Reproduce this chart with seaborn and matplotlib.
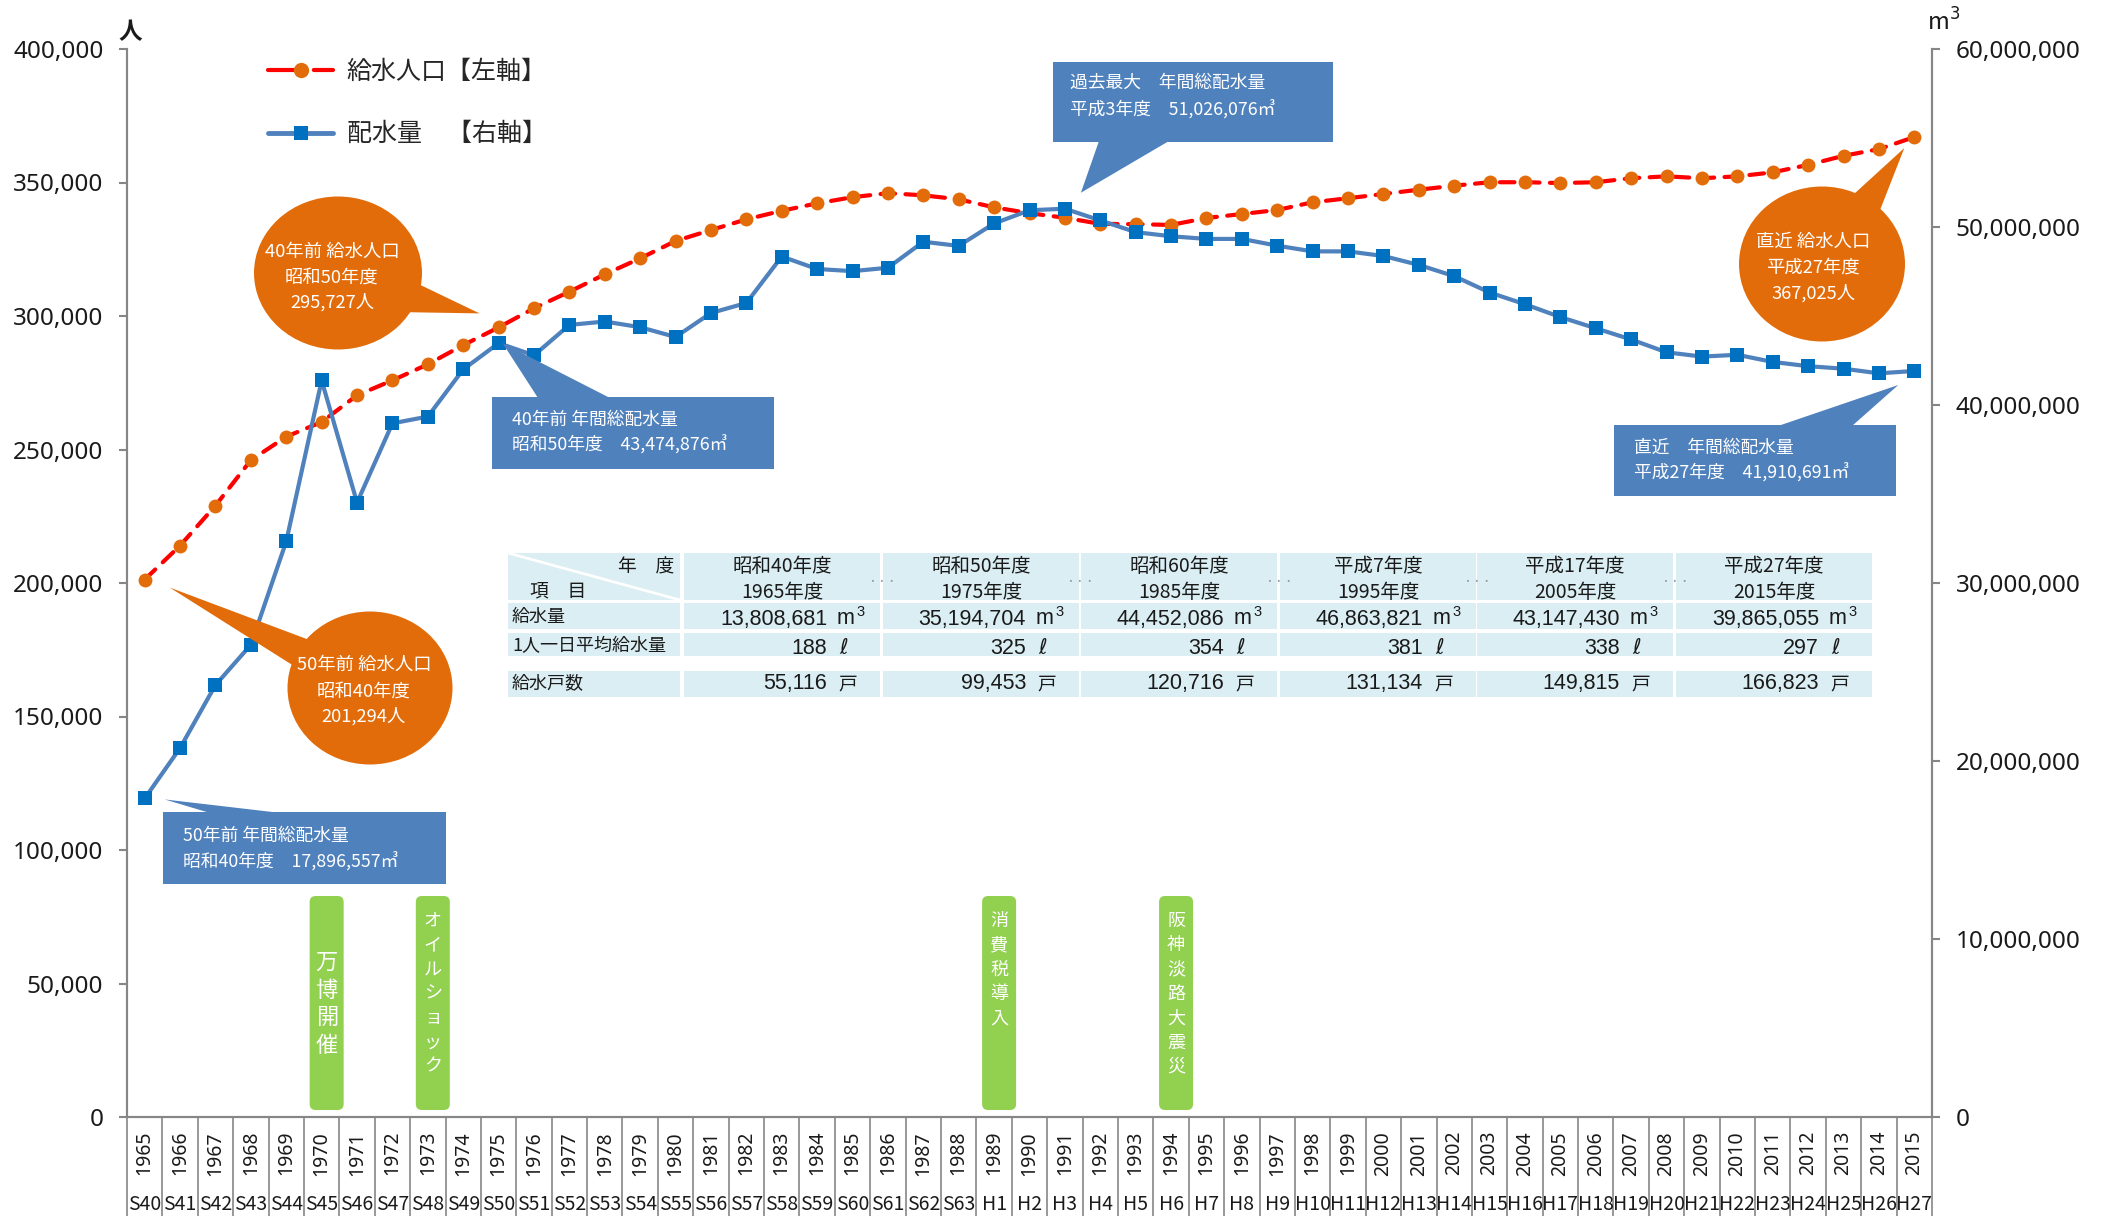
import numpy as np
import pandas as pd
import matplotlib
matplotlib.use('Agg')
import matplotlib.pyplot as plt
import seaborn as sns
from matplotlib.patches import Rectangle, Polygon, Ellipse, FancyBboxPatch
from matplotlib.transforms import IdentityTransform, blended_transform_factory
from matplotlib.lines import Line2D
from matplotlib.ticker import FuncFormatter

# ---------------- data ----------------
years = list(range(1965, 2016))
era_labels = ['S40', 'S41', 'S42', 'S43', 'S44', 'S45', 'S46', 'S47', 'S48', 'S49',
              'S50', 'S51', 'S52', 'S53', 'S54', 'S55', 'S56', 'S57', 'S58', 'S59',
              'S60', 'S61', 'S62', 'S63', 'H1', 'H2', 'H3', 'H4', 'H5', 'H6',
              'H7', 'H8', 'H9', 'H10', 'H11', 'H12', 'H13', 'H14', 'H15', 'H16',
              'H17', 'H18', 'H19', 'H20', 'H21', 'H22', 'H23', 'H24', 'H25', 'H26', 'H27']

# 給水人口 (人)
population = [201294, 214000, 229000, 246000, 254800, 260300, 270300, 275900, 281900, 289100,
              295727, 302900, 309100, 315600, 321600, 328100, 332200, 336200, 339400, 342200,
              344500, 346000, 345200, 343700, 340700, 338500, 336800, 334500, 334400, 334100,
              336700, 338200, 339700, 342600, 344100, 345700, 347300, 348800, 350100, 350100,
              349800, 350100, 351600, 352300, 351600, 352300, 353800, 356600, 360000, 362500,
              367025]

# 配水量 (m3)
distribution = [17896557, 20730000, 24270000, 26530000, 32340000, 41380000, 34520000, 38970000,
                39350000, 42000000, 43474876, 42790000, 44500000, 44690000, 44370000, 43820000,
                45170000, 45730000, 48340000, 47640000, 47520000, 47710000, 49170000, 48940000,
                50200000, 50940000, 51026076, 50370000, 49710000, 49480000, 49330000, 49330000,
                48950000, 48630000, 48630000, 48370000, 47870000, 47240000, 46320000, 45660000,
                44940000, 44310000, 43680000, 42960000, 42720000, 42820000, 42420000, 42180000,
                42040000, 41780000, 41910691]

events = ['万博開催', 'オイルショック', '消費税導入', '阪神淡路大震災']
event_years = [1970, 1973, 1989, 1994]

table_era = ['昭和40年度', '昭和50年度', '昭和60年度', '平成7年度', '平成17年度', '平成27年度']
table_year = ['1965年度', '1975年度', '1985年度', '1995年度', '2005年度', '2015年度']
supply_volume = ['13,808,681', '35,194,704', '44,452,086', '46,863,821', '43,147,430', '39,865,055']
per_capita = ['188', '325', '354', '381', '338', '297']
households = ['55,116', '99,453', '120,716', '131,134', '149,815', '166,823']

# ---------------- style ----------------
sns.set_style('white')
plt.rcParams['font.family'] = ['Noto Sans CJK JP', 'DejaVu Sans']

W, H = 2104, 1216
GRAY = '#868686'
RED = '#FF0000'
ORANGE = '#E36C0A'
BLUE_LINE = '#4F81BD'
BLUE_MARK = '#0070C0'
GREEN = '#92D050'
CELL = '#DAEEF3'
TXT = '#1a1a1a'
NUM_FONT = ['Liberation Sans', 'DejaVu Sans']
ID = IdentityTransform()

fig = plt.figure(figsize=(W / 100, H / 100), dpi=100)
ax = fig.add_axes([127 / W, 1 - 1117 / H, 1805 / W, 1068 / H])
ax2 = ax.twinx()

df = pd.DataFrame({'pos': range(len(years)), 'population': population,
                   'distribution': distribution})

sns.lineplot(data=df, x='pos', y='population', ax=ax, errorbar=None, color=RED, lw=3,
             linestyle=(0, (3.5, 2.5)), dash_capstyle='round', marker='o', markersize=10,
             markerfacecolor=ORANGE, markeredgecolor=ORANGE, markeredgewidth=0)
sns.lineplot(data=df, x='pos', y='distribution', ax=ax2, errorbar=None, color=BLUE_LINE, lw=3,
             marker='s', markersize=9.5, markerfacecolor=BLUE_MARK, markeredgecolor=BLUE_MARK,
             markeredgewidth=0)

ax.set_xlim(-0.5, len(years) - 0.5)
ax.set_ylim(0, 400000)
ax2.set_ylim(0, 60000000)
for a in (ax, ax2):
    a.set_xlabel('')
    a.set_ylabel('')
    a.spines['top'].set_visible(False)
    for s in ('left', 'right', 'bottom'):
        a.spines[s].set_color(GRAY)
        a.spines[s].set_linewidth(1.5)

comma = FuncFormatter(lambda v, p: f'{int(v):,}')
ax.set_yticks(range(0, 400001, 50000))
ax.yaxis.set_major_formatter(comma)
ax2.set_yticks(range(0, 60000001, 10000000))
ax2.yaxis.set_major_formatter(comma)
ax.tick_params(axis='y', direction='out', length=6, width=1.5, color=GRAY, pad=11,
               labelcolor=TXT)
ax2.tick_params(axis='y', direction='out', length=6, width=1.5, color=GRAY, pad=11,
                labelcolor=TXT)
for lab in ax.get_yticklabels() + ax2.get_yticklabels():
    lab.set_fontfamily(['Noto Sans', 'DejaVu Sans'])
    lab.set_fontsize(17.5)

ax.set_xticks(range(len(years)))
ax.set_xticklabels([str(y) for y in years], rotation=90, fontsize=14, color=TXT,
                   family=['Noto Sans', 'DejaVu Sans'])
ax.tick_params(axis='x', which='major', length=0, pad=10)
bounds = [i - 0.5 for i in range(len(years) + 1)]
ax.set_xticks(bounds, minor=True)
ax.tick_params(axis='x', which='minor', direction='in', length=5, width=1.5, color=GRAY)

trans = blended_transform_factory(ax.transData, ax.transAxes)
ax.vlines(bounds, -0.093, 0, transform=trans, colors=GRAY, lw=1.2, clip_on=False)
for i, e in enumerate(era_labels):
    ax.text(i, -(1204 - 1117) / 1068, e, transform=trans, ha='center', va='center',
            fontsize=14, color=TXT)

# axis unit labels
fig.text(130, H - 32, '人', transform=ID, ha='center', va='center', fontsize=17,
         fontweight='bold', color=TXT)
fig.text(1944, H - 22, 'm$^3$', transform=ID, ha='center', va='center', fontsize=17, color=TXT)

# legend
h1 = Line2D([], [], color=RED, lw=3, linestyle=(0, (8, 3)), dash_capstyle='round',
            marker='o', markersize=11, markerfacecolor=ORANGE, markeredgewidth=0)
h2 = Line2D([], [], color=BLUE_LINE, lw=3.5, solid_capstyle='round', marker='s',
            markersize=10, markerfacecolor=BLUE_MARK, markeredgewidth=0)
fig.legend(handles=[h1, h2], labels=['給水人口【左軸】', '配水量　【右軸】'], loc='upper left',
           bbox_to_anchor=(268 / W, 1 - 59 / H), frameon=False, fontsize=18,
           handlelength=2.6, handletextpad=0.55, labelspacing=1.45, borderpad=0,
           borderaxespad=0)


# ---------------- callouts (image pixel coords, y down) ----------------
def img_pt(axis, i, v, dx=0, dy=0):
    x, y = axis.transData.transform((i, v))
    return (x + dx, H - y + dy)


def disp(pts):
    return [(x, H - y) for x, y in pts]


def put(x, y, s, **kw):
    fig.text(x, H - y, s, transform=ID, **kw)


def ellipse_callout(center, size, base, tip, lines, text_x, text_ys):
    fig.add_artist(Polygon(disp([base[0], base[1], tip]), closed=True, transform=ID,
                           fc=ORANGE, ec='none'))
    fig.add_artist(Ellipse((center[0], H - center[1]), size[0], size[1], transform=ID,
                           fc=ORANGE, ec='none'))
    for s, y in zip(lines, text_ys):
        put(text_x, y, s, ha='center', va='center', fontsize=13.2, color='white')


def box_callout(rect, base, tip, lines, text_x, text_ys):
    x0, y0, x1, y1 = rect
    fig.add_artist(Polygon(disp([base[0], base[1], tip]), closed=True, transform=ID,
                           fc=BLUE_LINE, ec='none'))
    fig.add_artist(Rectangle((x0, H - y1), x1 - x0, y1 - y0, transform=ID,
                             fc=BLUE_LINE, ec='none'))
    for s, y in zip(lines, text_ys):
        put(text_x, y, s, ha='left', va='center', fontsize=12.8, color='white')


i65, i75, i91, i15 = 0, 10, 26, len(years) - 1

ellipse_callout((338, 273), (168, 153), [(410, 280), (395, 312)],
                img_pt(ax, i75, population[i75], -19, -14),
                ['40年前 給水人口', '昭和50年度', f'{population[i75]:,}人'], 332, [252, 278, 302])
ellipse_callout((370, 688), (165, 153), [(320, 644), (305, 673)],
                img_pt(ax, i65, population[i65], 25, 8),
                ['50年前 給水人口', '昭和40年度', f'{population[i65]:,}人'], 364, [665, 692, 716])
ellipse_callout((1822, 264), (166, 155), [(1842, 205), (1873, 228)],
                img_pt(ax, i15, population[i15], -10, 11),
                ['直近 給水人口', '平成27年度', f'{population[i15]:,}人'], 1813, [242, 268, 293])

box_callout((492, 397, 774, 469), [(538, 398), (610, 398)],
            img_pt(ax2, i75, distribution[i75], 4, 0),
            ['40年前 年間総配水量', f'昭和50年度　{distribution[i75]:,}㎥'], 512, [420, 445])
box_callout((163, 812, 446, 884), [(210, 813), (281, 813)],
            img_pt(ax2, i65, distribution[i65], 20, 1),
            ['50年前 年間総配水量', f'昭和40年度　{distribution[i65]:,}㎥'], 183, [836, 862])
box_callout((1053, 62, 1333, 142), [(1099, 141), (1169, 141)],
            img_pt(ax2, i91, distribution[i91], 16, -16),
            ['過去最大　年間総配水量', f'平成3年度　{distribution[i91]:,}㎥'], 1070, [83, 110])
box_callout((1614, 425, 1896, 496), [(1778, 426), (1852, 426)],
            img_pt(ax2, i15, distribution[i15], -16, 14),
            ['直近　年間総配水量', f'平成27年度　{distribution[i15]:,}㎥'], 1634, [448, 473])

# ---------------- event markers ----------------
for name, yr in zip(events, event_years):
    cx, _ = img_pt(ax, years.index(yr), 0)
    cx += 5
    fig.add_artist(FancyBboxPatch((cx - 17, H - 1110), 34, 214,
                                  boxstyle='round,pad=0,rounding_size=6', transform=ID,
                                  fc=GREEN, ec='none'))
    if name == '万博開催':
        fs, step = 16, 27.5
        y_start = 1004 - step * (len(name) - 1) / 2
    else:
        fs, step = 13, 24.3
        y_start = 921
    for k, ch in enumerate(name):
        put(cx, y_start + k * step, ch, ha='center', va='center', fontsize=fs, color='white')

# ---------------- summary table ----------------
col_x = [684, 883, 1081, 1280, 1477, 1676]
col_w = 196
rows = [(553, 600), (603, 629), (633, 656), (671, 697)]


def cell(x0, y0, x1, y1):
    fig.add_artist(Rectangle((x0, H - y1), x1 - x0, y1 - y0, transform=ID, fc=CELL, ec='none'))


for (y0, y1) in rows:
    cell(508, y0, 680, y1)
    for x in col_x:
        cell(x, y0, x + col_w, y1)

fig.add_artist(Line2D([508, 680], [H - 553, H - 600], transform=ID, color='white', lw=2))
put(646, 567, '年　度', ha='center', va='center', fontsize=13.5, color=TXT)
put(558, 591, '項　目', ha='center', va='center', fontsize=13.5, color=TXT)
put(512, 617, '給水量', ha='left', va='center', fontsize=13, color=TXT)
put(512, 646, '1人一日平均給水量', ha='left', va='center', fontsize=13, color=TXT)
put(512, 684, '給水戸数', ha='left', va='center', fontsize=13, color=TXT)

for k, x in enumerate(col_x):
    xc = x + col_w / 2
    x1 = x + col_w
    put(xc, 567, table_era[k], ha='center', va='center', fontsize=14, color=TXT)
    put(xc, 592, table_year[k], ha='center', va='center', fontsize=14, color=TXT)
    put(x1 - 53, 619, supply_volume[k], ha='right', va='center', fontsize=15.5, color=TXT,
        family=NUM_FONT)
    put(x1 - 43, 619, 'm', ha='left', va='center', fontsize=15.5, color=TXT, family=NUM_FONT)
    put(x1 - 24, 612, '3', ha='left', va='center', fontsize=10.5, color=TXT, family=NUM_FONT)
    put(x1 - 53, 648, per_capita[k], ha='right', va='center', fontsize=15.5, color=TXT,
        family=NUM_FONT)
    put(x1 - 41, 648, 'ℓ', ha='left', va='center', fontsize=15, color=TXT,
        family=['DejaVu Sans'], style='italic')
    put(x1 - 53, 684, households[k], ha='right', va='center', fontsize=15.5, color=TXT,
        family=NUM_FONT)
    put(x1 - 42, 684, '戸', ha='left', va='center', fontsize=13.5, color=TXT)
    if k < len(col_x) - 1:
        put((x1 + col_x[k + 1]) / 2, 582, '・・・', ha='center', va='center', fontsize=7,
            color='#999999')

fig.savefig('out.png', dpi=100)
